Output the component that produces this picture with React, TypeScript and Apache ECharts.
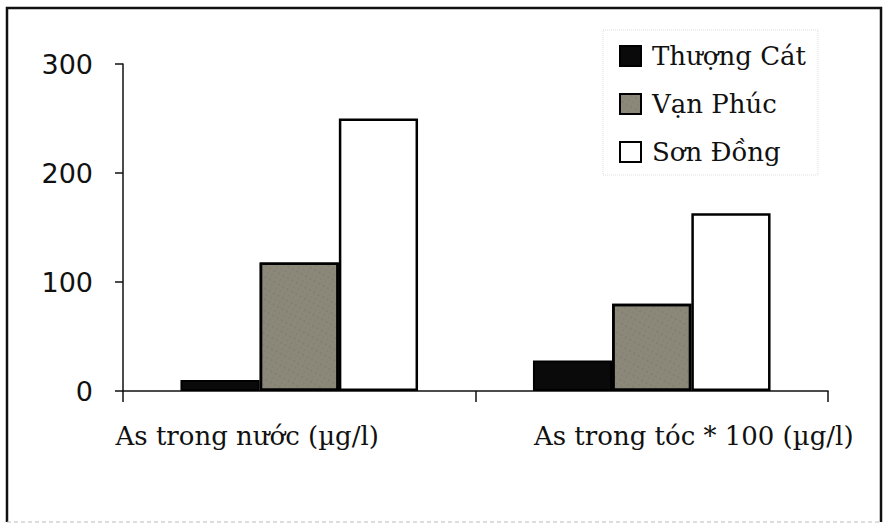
import React, { useEffect, useRef } from "react";
import * as echarts from "echarts";

const categories = ["As trong nước (µg/l)", "As trong tóc * 100 (µg/l)"];
const seriesNames = ["Thượng Cát", "Vạn Phúc", "Sơn Đồng"];
const thuongCat = [10, 28];
const vanPhuc = [118, 80];
const sonDong = [250, 163];
const yTicks = [0, 100, 200, 300];

export default function App() {
  const ref = useRef<HTMLDivElement>(null);
  useEffect(() => {
    document.body.style.margin = "0";
    const chart = echarts.init(ref.current!, null, { renderer: "svg" });
    const serif = "DejaVu Serif";
    const barBase = { type: "bar", barGap: "0%", barCategoryGap: "32.6%" };
    chart.setOption({
      animation: false,
      backgroundColor: "#ffffff",
      grid: { left: 123, right: 64, top: 64, bottom: 134 },
      legend: {
        orient: "vertical",
        left: 603,
        top: 30,
        padding: [13, 12, 10, 16],
        itemWidth: 21,
        itemHeight: 20,
        itemGap: 22,
        icon: "rect",
        borderColor: "#dcdcdc",
        borderWidth: 1,
        borderType: "dotted",
        textStyle: { fontFamily: serif, fontSize: 26, color: "#111", padding: [0, 0, 0, 6] },
        data: seriesNames,
      },
      xAxis: {
        type: "category",
        data: [
          { value: categories[0], textStyle: { padding: [0, 104, 0, 0] } },
          { value: categories[1], textStyle: { padding: [0, 0, 0, 84] } },
        ],
        axisLine: { lineStyle: { color: "#111", width: 1.5 } },
        axisTick: { show: true, alignWithLabel: false, length: 11, lineStyle: { color: "#111", width: 1.5 } },
        axisLabel: { interval: 0, hideOverlap: false, fontFamily: serif, fontSize: 26, color: "#111", margin: 32 },
        splitLine: { show: false },
      },
      yAxis: {
        type: "value",
        min: yTicks[0],
        max: yTicks[yTicks.length - 1],
        interval: 100,
        axisLine: { show: true, lineStyle: { color: "#111", width: 1.5 } },
        axisTick: { show: true, length: 8, lineStyle: { color: "#111", width: 1.5 } },
        axisLabel: { fontFamily: "DejaVu Sans", fontSize: 27, color: "#111", margin: 30 },
        splitLine: { show: false },
      },
      series: [
        {
          ...barBase,
          name: seriesNames[0],
          data: thuongCat,
          itemStyle: { color: "#0a0a0a", borderColor: "#000", borderWidth: 2 },
        },
        {
          ...barBase,
          name: seriesNames[1],
          data: vanPhuc,
          itemStyle: {
            color: "#8b887a",
            borderColor: "#000",
            borderWidth: 2.5,
            decal: {
              symbol: "rect",
              symbolSize: 0.5,
              color: "rgba(60,58,50,0.45)",
              dashArrayX: [[2, 3], [1, 4]],
              dashArrayY: [2, 3],
              rotation: 0.5,
            },
          },
        },
        {
          ...barBase,
          name: seriesNames[2],
          data: sonDong,
          itemStyle: { color: "#ffffff", borderColor: "#000", borderWidth: 2.5 },
        },
      ],
      graphic: [
        {
          type: "polyline",
          shape: { points: [[7, 522], [7, 8], [881, 8], [881, 522]] },
          style: { stroke: "#111", lineWidth: 2.5, fill: "none" },
          silent: true,
        },
        {
          type: "line",
          shape: { x1: 7, y1: 522, x2: 881, y2: 522 },
          style: { stroke: "#bbbbbb", lineWidth: 1, lineDash: [4, 3] },
          silent: true,
        },
      ],
    });
    return () => chart.dispose();
  }, []);
  return <div ref={ref} style={{ width: 892, height: 525 }} />;
}
